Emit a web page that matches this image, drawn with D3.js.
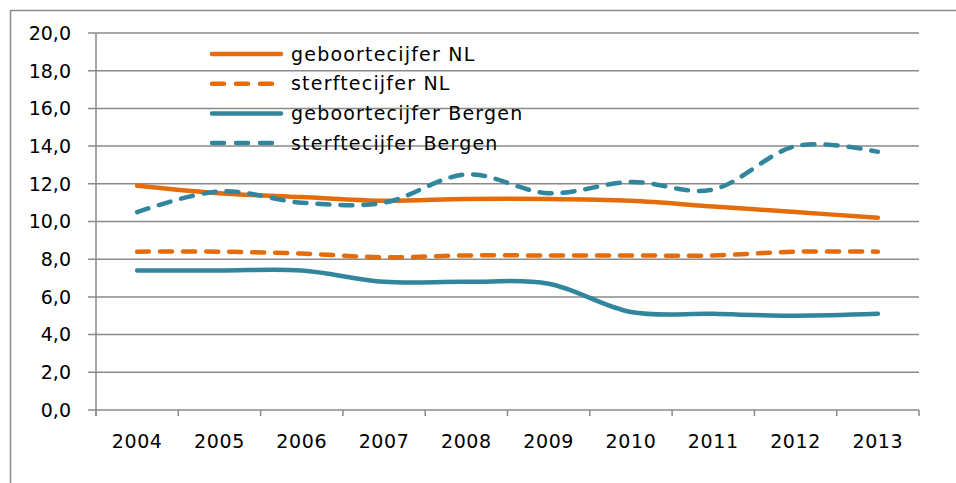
<!DOCTYPE html>
<html>
<head>
<meta charset="utf-8">
<script src="https://cdn.jsdelivr.net/npm/d3@7"></script>
<style>
  body { margin: 0; background: #fff; }
  svg text { font-family: "DejaVu Sans", sans-serif; fill: #000; }
</style>
</head>
<body>
<svg id="chart" width="956" height="483"></svg>
<script>
var years = ["2004", "2005", "2006", "2007", "2008", "2009", "2010", "2011", "2012", "2013"];
var geboorteNL = [11.9, 11.5, 11.3, 11.1, 11.2, 11.2, 11.1, 10.8, 10.5, 10.2];
var sterfteNL = [8.4, 8.4, 8.3, 8.1, 8.2, 8.2, 8.2, 8.2, 8.4, 8.4];
var geboorteBergen = [7.4, 7.4, 7.4, 6.8, 6.8, 6.7, 5.2, 5.1, 5.0, 5.1];
var sterfteBergen = [10.5, 11.6, 11.0, 11.0, 12.5, 11.5, 12.1, 11.7, 14.0, 13.7];
var yTicks = [0, 2, 4, 6, 8, 10, 12, 14, 16, 18, 20];

var series = [
  { name: "geboortecijfer NL", values: geboorteNL, color: "#E46C0A", dash: null },
  { name: "sterftecijfer NL", values: sterfteNL, color: "#E46C0A", dash: "12,11" },
  { name: "geboortecijfer Bergen", values: geboorteBergen, color: "#31859C", dash: null },
  { name: "sterftecijfer Bergen", values: sterfteBergen, color: "#31859C", dash: "12,11" }
];

var svg = d3.select("#chart");
var plotLeft = 96, plotRight = 919, plotTop = 33, plotBottom = 410;

// frame (only top and left visible)
svg.append("line").attr("x1", 10).attr("x2", 956).attr("y1", 10.5).attr("y2", 10.5)
  .style("stroke", "#8c8c8c").style("stroke-width", 1.5);
svg.append("line").attr("x1", 10.5).attr("x2", 10.5).attr("y1", 10).attr("y2", 483)
  .style("stroke", "#8c8c8c").style("stroke-width", 1.5);

var x = d3.scaleBand().domain(years).range([plotLeft, plotRight]);
var y = d3.scaleLinear().domain([0, 20]).range([plotBottom, plotTop]);

// gridlines
svg.append("g").selectAll("line").data(yTicks).enter().append("line")
  .attr("x1", plotLeft - 8).attr("x2", plotRight)
  .attr("y1", function (d) { return y(d); })
  .attr("y2", function (d) { return y(d); })
  .style("stroke", "#8a8a8a").style("stroke-width", 1.5);

// y labels
svg.append("g").selectAll("text").data(yTicks).enter().append("text")
  .attr("x", 71).attr("y", function (d) { return y(d); })
  .attr("dy", "0.36em")
  .attr("text-anchor", "end")
  .style("font-size", "19px")
  .text(function (d) { return d3.format(".1f")(d).replace(".", ","); });

// y axis line
svg.append("line").attr("x1", plotLeft).attr("x2", plotLeft).attr("y1", plotTop).attr("y2", plotBottom + 6)
  .style("stroke", "#8a8a8a").style("stroke-width", 1.5);

// x ticks at band edges
var edges = years.map(function (d) { return x(d); }).concat([plotRight]);
svg.append("g").selectAll("line").data(edges).enter().append("line")
  .attr("x1", function (d) { return d; }).attr("x2", function (d) { return d; })
  .attr("y1", plotBottom).attr("y2", plotBottom + 6)
  .style("stroke", "#8a8a8a").style("stroke-width", 1.5);

// x labels
svg.append("g").selectAll("text").data(years).enter().append("text")
  .attr("x", function (d) { return x(d) + x.bandwidth() / 2; })
  .attr("y", 448)
  .attr("text-anchor", "middle")
  .style("font-size", "19px")
  .style("letter-spacing", "0.6px")
  .text(function (d) { return d; });

var line = d3.line()
  .x(function (d, i) { return x(years[i]) + x.bandwidth() / 2; })
  .y(function (d) { return y(d); })
  .curve(d3.curveCardinal.tension(0));

svg.append("g").selectAll("path").data(series).enter().append("path")
  .attr("d", function (d) { return line(d.values); })
  .style("fill", "none")
  .style("stroke", function (d) { return d.color; })
  .style("stroke-width", 4.5)
  .style("stroke-linecap", "round")
  .style("stroke-dasharray", function (d) { return d.dash; });

// legend
var legend = svg.append("g").selectAll("g").data(series).enter().append("g")
  .attr("transform", function (d, i) { return "translate(212," + (54 + i * 29.7) + ")"; });
legend.append("line")
  .attr("x1", 0).attr("x2", 69).attr("y1", 0).attr("y2", 0)
  .style("stroke", function (d) { return d.color; })
  .style("stroke-width", 4.5)
  .style("stroke-linecap", "round")
  .style("stroke-dasharray", function (d) { return d.dash ? "12,12" : null; });
legend.append("text")
  .attr("x", 79).attr("y", 0).attr("dy", "0.35em")
  .style("font-size", "19px")
  .style("letter-spacing", "1.2px")
  .text(function (d) { return d.name; });
</script>
</body>
</html>
